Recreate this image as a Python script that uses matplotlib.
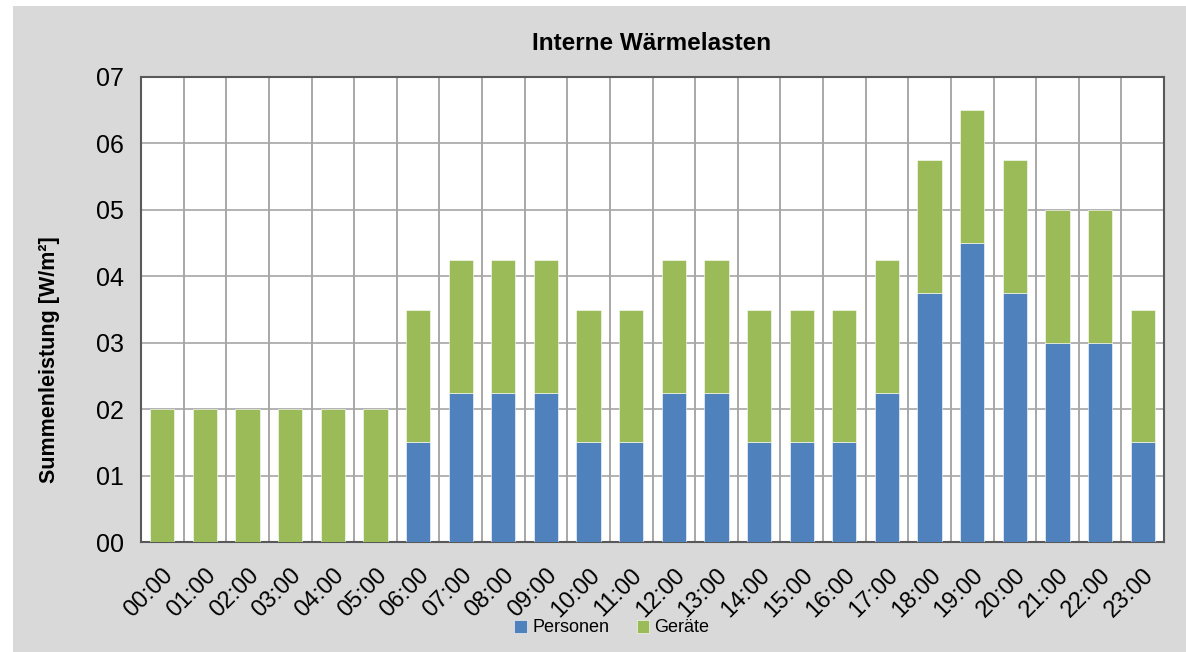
import matplotlib.pyplot as plt
from matplotlib.patches import Rectangle
import numpy as np

plt.rcParams['font.family'] = ['Liberation Sans Narrow', 'Liberation Sans', 'DejaVu Sans']

hours = ['%02d:00' % h for h in range(24)]
personen = [0, 0, 0, 0, 0, 0, 1.5, 2.25, 2.25, 2.25, 1.5, 1.5,
            2.25, 2.25, 1.5, 1.5, 1.5, 2.25, 3.75, 4.5, 3.75, 3.0, 3.0, 1.5]
geraete = [2] * 24
yticks = [0, 1, 2, 3, 4, 5, 6, 7]
ytick_labels = ['00', '01', '02', '03', '04', '05', '06', '07']

blue = '#4f81bd'
green = '#9bbb59'

W, H = 1186, 652
fig = plt.figure(figsize=(W / 100, H / 100), dpi=100, facecolor='white')
fig.patches.append(Rectangle((13 / W, 0), 1 - 13 / W, 1 - 6 / H,
                             transform=fig.transFigure, facecolor='#d9d9d9',
                             edgecolor='none', zorder=-10))

ax = fig.add_axes([141 / W, 1 - 542 / H, (1164 - 141) / W, (542 - 77) / H])
ax.set_facecolor('white')

x = np.arange(len(hours))
ax.bar(x, personen, width=0.57, color=blue, edgecolor='white', linewidth=0.4, label='Personen', zorder=3)
ax.bar(x, geraete, width=0.57, bottom=personen, color=green, edgecolor='white', linewidth=0.4,
       label='Geräte', zorder=3)

ax.set_xlim(-0.5, 23.5)
ax.set_ylim(0, 7)
ax.set_yticks(yticks)
ax.set_yticklabels(ytick_labels, fontsize=18)
ax.set_xticks(x)
ax.set_xticklabels(hours, rotation=45, ha='right', va='top', rotation_mode='anchor', fontsize=17)
ax.tick_params(axis='x', length=0, pad=16)
ax.tick_params(axis='y', length=0, pad=12)

for xv in np.arange(-0.5, 24, 1):
    ax.axvline(xv, color='#9a9a9a', linewidth=1.2, zorder=1)
for yv in yticks:
    ax.axhline(yv, color='#a6a6a6', linewidth=1.2, zorder=1)
for s in ax.spines.values():
    s.set_color('#595959')
    s.set_linewidth(1.5)

fig.text(652 / W, 1 - 43 / H, 'Interne Wärmelasten', ha='center', va='center',
         fontsize=17.5, fontweight='bold')
fig.text(50 / W, 1 - 360 / H, 'Summenleistung [W/m²]', ha='center', va='center',
         rotation=90, fontsize=15.5, fontweight='bold')

fig.legend(loc='center', bbox_to_anchor=(612 / W, 1 - 628 / H), ncol=2, frameon=False,
           fontsize=13, handlelength=0.7, handleheight=0.7, handletextpad=0.3, columnspacing=1.5)

fig.savefig('out.png', dpi=100, facecolor=fig.get_facecolor())
